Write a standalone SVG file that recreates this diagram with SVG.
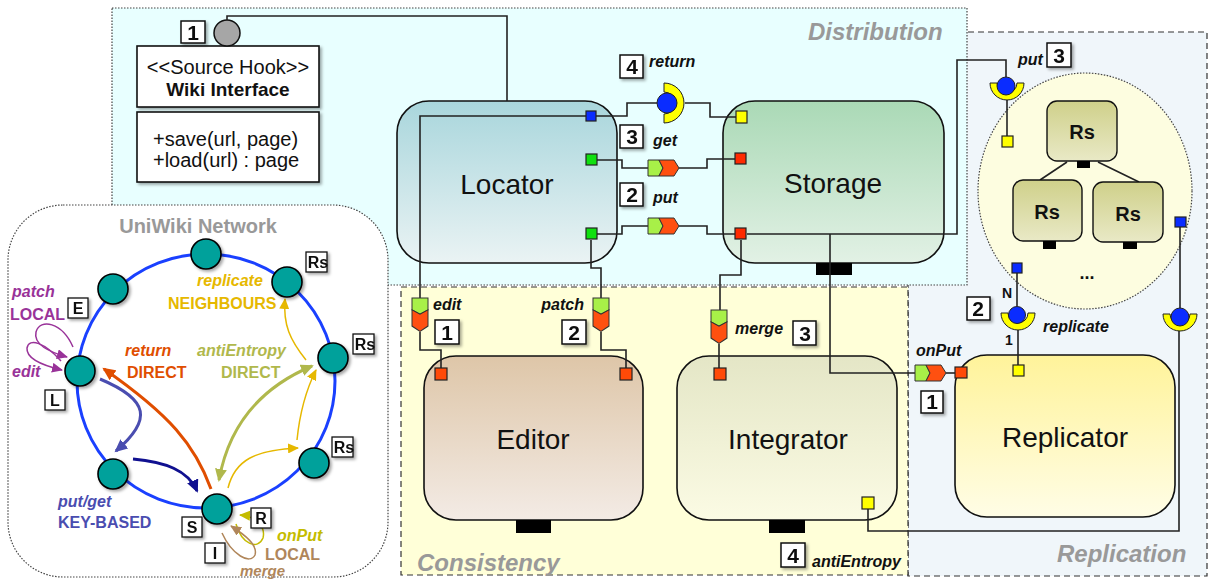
<svg xmlns="http://www.w3.org/2000/svg" width="1209" height="580" viewBox="0 0 1209 580">
<defs>
<style>
text{font-family:"Liberation Sans",Arial,sans-serif}
.dot{fill:none;stroke:#444;stroke-width:1.2;stroke-dasharray:1.5 1.5}
.dash{stroke:#333;stroke-width:1.2;stroke-dasharray:6 4}
.comp{stroke:#111;stroke-width:1.6}
.clabel{font-size:28px;text-anchor:middle;fill:#111}
.rlabel{font-size:24px;font-weight:bold;font-style:italic;fill:#999}
.wire{fill:none;stroke:#222;stroke-width:1.6}
.port{stroke:#222;stroke-width:1.2}
.pb{fill:#0a2cff}.pg{fill:#10e010}.pr{fill:#ff2a00}.po{fill:#ff4a08}.py{fill:#ffff00}
.num rect{fill:#fff;stroke:#111;stroke-width:1.5}
.num text{font-size:21px;font-weight:bold;text-anchor:middle;fill:#111}
.lab{font-size:16px;font-weight:bold;font-style:italic;fill:#111}
.bar{fill:#000}
.sock{fill:#ffff00;stroke:#222;stroke-width:1}
.ball{fill:#0a2cff;stroke:#222;stroke-width:1}
.cg{fill:#a8f048;stroke:#333;stroke-width:1}
.cr{fill:#ff5010;stroke:#333;stroke-width:1}
.nn{fill:#00a19b;stroke:#000;stroke-width:1.6}
.nl rect{fill:#fff;stroke:#111;stroke-width:1.3}
.nl text{font-size:16px;font-weight:bold;text-anchor:middle;fill:#111}
.nt{font-size:16px;font-weight:bold}
.it{font-style:italic}
.rs{fill:url(#gRs);stroke:#111;stroke-width:1.4}
.rst{font-size:20px;font-weight:bold;text-anchor:middle;fill:#111}
</style>
<filter id="sh" x="-20%" y="-20%" width="150%" height="150%"><feDropShadow dx="2" dy="2" stdDeviation="1.6" flood-color="#000" flood-opacity="0.35"/></filter>
<linearGradient id="gLoc" x1="0" y1="0" x2="0" y2="1"><stop offset="0" stop-color="#a9d6dc"/><stop offset="1" stop-color="#eaf3f4"/></linearGradient>
<linearGradient id="gSto" x1="0" y1="0" x2="0" y2="1"><stop offset="0" stop-color="#aad9b6"/><stop offset="1" stop-color="#e2f1e5"/></linearGradient>
<linearGradient id="gEd" x1="0" y1="0" x2="0" y2="1"><stop offset="0" stop-color="#dec6a8"/><stop offset="1" stop-color="#f3ebe5"/></linearGradient>
<linearGradient id="gInt" x1="0" y1="0" x2="0" y2="1"><stop offset="0" stop-color="#e4e6c6"/><stop offset="1" stop-color="#fbfbe4"/></linearGradient>
<linearGradient id="gRep" x1="0" y1="0" x2="0" y2="1"><stop offset="0" stop-color="#fff39a"/><stop offset="1" stop-color="#fffde6"/></linearGradient>
<linearGradient id="gRs" x1="0" y1="0" x2="0" y2="1"><stop offset="0" stop-color="#cfd08a"/><stop offset="1" stop-color="#e9e9c6"/></linearGradient>
<g id="conn"><path class="cg" d="M0,0 H11 L15,8 L11,16 H0 Z"/><path class="cr" d="M11,0 H26 L31,8 L26,16 H11 L15,8 Z"/></g>
<marker id="aO" markerUnits="userSpaceOnUse" markerWidth="14" markerHeight="12" refX="11" refY="6" orient="auto"><path d="M0,0 L13,6 L0,12 Z" fill="#e04e00"/></marker>
<marker id="aB" markerUnits="userSpaceOnUse" markerWidth="14" markerHeight="12" refX="11" refY="6" orient="auto"><path d="M0,0 L13,6 L0,12 Z" fill="#4a4db0"/></marker>
<marker id="aN" markerUnits="userSpaceOnUse" markerWidth="14" markerHeight="12" refX="11" refY="6" orient="auto"><path d="M0,0 L13,6 L0,12 Z" fill="#101090"/></marker>
<marker id="aA" markerUnits="userSpaceOnUse" markerWidth="14" markerHeight="12" refX="11" refY="6" orient="auto-start-reverse"><path d="M0,0 L13,6 L0,12 Z" fill="#b0b84c"/></marker>
<marker id="aG" markerUnits="userSpaceOnUse" markerWidth="12" markerHeight="10" refX="10" refY="5" orient="auto"><path d="M0,0 L11,5 L0,10 Z" fill="#e6b800"/></marker>
<marker id="aP" markerUnits="userSpaceOnUse" markerWidth="12" markerHeight="10" refX="10" refY="5" orient="auto"><path d="M0,0 L11,5 L0,10 Z" fill="#993399"/></marker>
<marker id="aY" markerUnits="userSpaceOnUse" markerWidth="12" markerHeight="10" refX="10" refY="5" orient="auto"><path d="M0,0 L11,5 L0,10 Z" fill="#c4bc00"/></marker>
<marker id="aM" markerUnits="userSpaceOnUse" markerWidth="12" markerHeight="10" refX="10" refY="5" orient="auto"><path d="M0,0 L11,5 L0,10 Z" fill="#b0865a"/></marker>
</defs>

<rect width="1209" height="580" fill="#fff"/>

<!-- regions -->
<g id="region-replication">
<rect class="dash" x="908" y="32" width="299" height="544" fill="#f0f6fa"/>
<text class="rlabel" x="1057" y="562">Replication</text>
</g>
<g id="region-distribution">
<rect x="112" y="8" width="855" height="277" fill="#e8ffff"/>
<rect class="dot" x="112" y="8" width="855" height="277"/>
<text class="rlabel" x="808" y="40">Distribution</text>
</g>
<g id="region-consistency">
<rect class="dash" x="401" y="287" width="507" height="288" fill="#ffffd8"/>
<text class="rlabel" x="417" y="571">Consistency</text>
</g>

<!-- UniWiki network -->
<g id="network">
<rect x="8" y="205" width="380" height="372" rx="55" ry="55" fill="#fff"/>
<rect class="dot" x="8" y="205" width="380" height="372" rx="55" ry="55"/>
<text x="198" y="233" font-size="20" font-weight="bold" fill="#999" text-anchor="middle">UniWiki Network</text>
<ellipse cx="206" cy="381" rx="129" ry="127" fill="none" stroke="#1a40ff" stroke-width="3"/>
<g id="net-arrows" fill="none">
<path d="M211,489 C195,445 170,415 104,369" stroke="#e04e00" stroke-width="3" marker-end="url(#aO)"/>
<path d="M100,379 C150,400 152,420 116,451" stroke="#4a4db0" stroke-width="3" marker-end="url(#aB)"/>
<path d="M133,459 C165,462 188,470 197,491" stroke="#101090" stroke-width="3" marker-end="url(#aN)"/>
<path d="M219,480 C228,430 255,390 312,366" stroke="#b0b84c" stroke-width="3" marker-start="url(#aA)" marker-end="url(#aA)"/>
<path d="M228,488 C235,460 255,450 298,448" stroke="#e6b800" stroke-width="1.5" marker-end="url(#aG)"/>
<path d="M297,440 C300,410 306,390 316,370" stroke="#e6b800" stroke-width="1.5" marker-end="url(#aG)"/>
<path d="M306,360 C290,340 283,325 285,299" stroke="#e6b800" stroke-width="1.5" marker-end="url(#aG)"/>
<path d="M73,347 C62,322 40,318 36,332 C33,345 50,352 67,357" stroke="#993399" stroke-width="1.5" marker-end="url(#aP)"/>
<path d="M61,361 C45,343 29,337 27,348 C26,359 45,366 62,370" stroke="#993399" stroke-width="1.5" marker-end="url(#aP)"/>
<path d="M236,524 C242,545 258,550 263,538 C266,526 255,516 240,515" stroke="#c4bc00" stroke-width="1.5" marker-end="url(#aY)"/>
<path d="M222,533 C232,555 250,565 255,555 C258,545 245,535 231,526" stroke="#b0865a" stroke-width="1.5" marker-end="url(#aM)"/>
</g>
<g id="net-nodes" filter="url(#sh)">
<circle class="nn" cx="206" cy="254" r="15"/>
<circle class="nn" cx="113" cy="289" r="15"/>
<circle class="nn" cx="80" cy="371" r="15"/>
<circle class="nn" cx="113" cy="474" r="15"/>
<circle class="nn" cx="217" cy="509" r="15"/>
<circle class="nn" cx="314" cy="463" r="15"/>
<circle class="nn" cx="333" cy="358" r="15"/>
<circle class="nn" cx="287" cy="282" r="15"/>
</g>
<g class="nl" filter="url(#sh)">
<rect x="68" y="298" width="20" height="20"/><text x="78" y="314">E</text>
<rect x="45" y="390" width="20" height="20"/><text x="55" y="406">L</text>
<rect x="182" y="517" width="20" height="20"/><text x="192" y="533">S</text>
<rect x="205" y="543" width="20" height="20"/><text x="215" y="559">I</text>
<rect x="251" y="508" width="20" height="20"/><text x="261" y="524">R</text>
<rect x="306" y="252" width="21" height="20"/><text x="318" y="268">Rs</text>
<rect x="353" y="334" width="21" height="20"/><text x="365" y="350">Rs</text>
<rect x="332" y="437" width="21" height="20"/><text x="344" y="453">Rs</text>
</g>
<g class="nt">
<text x="12" y="297" class="it" fill="#993399">patch</text>
<text x="10" y="320" fill="#993399">LOCAL</text>
<text x="12" y="377" class="it" fill="#993399">edit</text>
<text x="125" y="356" class="it" fill="#e04e00">return</text>
<text x="127" y="378" fill="#e04e00">DIRECT</text>
<text x="197" y="356" class="it" fill="#b0b84c">antiEntropy</text>
<text x="221" y="378" fill="#b0b84c">DIRECT</text>
<text x="197" y="286" class="it" fill="#e6b800">replicate</text>
<text x="168" y="309" fill="#e6b800">NEIGHBOURS</text>
<text x="58" y="507" class="it" fill="#4a4db0">put/get</text>
<text x="58" y="528" fill="#4a4db0">KEY-BASED</text>
<text x="277" y="541" class="it" fill="#c4bc00">onPut</text>
<text x="265" y="560" fill="#b0865a">LOCAL</text>
<text x="240" y="576" class="it" fill="#b0865a" font-size="15">merge</text>
</g>
</g>

<!-- Rs cluster -->
<g id="rs-cluster">
<ellipse cx="1085" cy="191" rx="107" ry="118" fill="#fdfde0"/>
<ellipse class="dot" cx="1085" cy="191" rx="107" ry="118"/>
<path class="wire" d="M1067,162 L1040,180 M1098,162 L1139,182" stroke-width="1.3"/>
<rect class="rs" x="1047" y="101" width="70" height="60" rx="10"/>
<text class="rst" x="1082" y="139">Rs</text>
<rect class="bar" x="1077" y="161" width="13" height="7"/>
<rect class="rs" x="1013" y="180" width="69" height="61" rx="10"/>
<text class="rst" x="1047" y="219">Rs</text>
<rect class="bar" x="1043" y="241" width="13" height="8"/>
<rect class="rs" x="1093" y="182" width="70" height="60" rx="10"/>
<text class="rst" x="1128" y="221">Rs</text>
<rect class="bar" x="1123" y="242" width="14" height="7"/>
<text x="1087" y="279" font-size="18" font-weight="bold" text-anchor="middle" fill="#111">...</text>
</g>

<!-- UML interface -->
<g id="wiki-interface">
<g filter="url(#sh)">
<rect x="137" y="46" width="182" height="61" fill="#fff" stroke="#111" stroke-width="1.6"/>
<rect x="137" y="112" width="182" height="70" fill="#fff" stroke="#111" stroke-width="1.6"/>
</g>
<text x="228" y="74" font-size="20" text-anchor="middle" fill="#111">&lt;&lt;Source Hook&gt;&gt;</text>
<text x="228" y="96" font-size="19" font-weight="bold" text-anchor="middle" fill="#111">Wiki Interface</text>
<text x="153" y="146" font-size="20" fill="#111">+save(url, page)</text>
<text x="153" y="167" font-size="20" fill="#111">+load(url) : page</text>
<circle cx="227" cy="33" r="13" fill="#a6a6a6" stroke="#111" stroke-width="1.5"/>
<g class="num" filter="url(#sh)"><rect x="181" y="21" width="24" height="22"/><text x="193" y="40">1</text></g>
</g>

<!-- components -->
<g id="locator"><rect class="comp" x="397" y="101" width="220" height="162" rx="32" fill="url(#gLoc)"/><text class="clabel" x="507" y="194">Locator</text></g>
<g id="storage"><rect class="comp" x="723" y="101" width="221" height="162" rx="32" fill="url(#gSto)"/><text class="clabel" x="833" y="193">Storage</text><rect class="bar" x="816" y="263" width="36" height="12"/></g>
<g id="editor"><rect class="comp" x="424" y="356" width="219" height="164" rx="32" fill="url(#gEd)"/><text class="clabel" x="533" y="449">Editor</text><rect class="bar" x="516" y="520" width="35" height="13"/></g>
<g id="integrator"><rect class="comp" x="677" y="356" width="220" height="164" rx="32" fill="url(#gInt)"/><text class="clabel" x="788" y="449">Integrator</text><rect class="bar" x="769" y="520" width="36" height="13"/></g>
<g id="replicator"><rect class="comp" x="955" y="355" width="220" height="162" rx="32" fill="url(#gRep)"/><text class="clabel" x="1065" y="447">Replicator</text></g>

<!-- connectors -->
<g id="connectors">
<path class="wire" d="M227,20 V16 H507 V101"/>
<path class="wire" d="M586,116 H420 V298"/>
<path class="wire" d="M420,332 V350 H441 V368"/>
<path class="wire" d="M596,116 H627 V103 H657"/>
<path class="wire" d="M685,103 H710 V117 H736"/>
<path class="wire" d="M597,160 H622 V168 H648"/>
<path class="wire" d="M679,168 H707 V159 H735"/>
<path class="wire" d="M597,234 H622 V226 H648"/>
<path class="wire" d="M679,226 H707 V234 H735"/>
<path class="wire" d="M591,240 V268 H601 V298"/>
<path class="wire" d="M601,332 V350 H626 V368"/>
<path class="wire" d="M747,234 H957 V60 H1006 V77"/>
<path class="wire" d="M1007,100 V136"/>
<path class="wire" d="M741,240 V275 H720 V310"/>
<path class="wire" d="M719,344 V368"/>
<path class="wire" d="M830,234 V373 H915"/>
<path class="wire" d="M946,373 H956"/>
<path class="wire" d="M1017,273 V306"/>
<path class="wire" d="M1018,330 V365"/>
<path class="wire" d="M1180,227 V308"/>
<path class="wire" d="M868,509 V531 H1179 V330"/>
</g>

<!-- ports -->
<g id="ports">
<rect class="port pb" x="586" y="111" width="10" height="10"/>
<rect class="port pg" x="586" y="154" width="11" height="11"/>
<rect class="port pg" x="586" y="228" width="11" height="11"/>
<rect class="port py" x="736" y="111" width="11" height="12"/>
<rect class="port pr" x="735" y="153" width="11" height="11"/>
<rect class="port pr" x="735" y="228" width="11" height="11"/>
<rect class="port po" x="435" y="368" width="12" height="12"/>
<rect class="port po" x="620" y="368" width="12" height="12"/>
<rect class="port po" x="714" y="368" width="12" height="12"/>
<rect class="port py" x="862" y="497" width="12" height="12"/>
<rect class="port po" x="955" y="367" width="12" height="11"/>
<rect class="port py" x="1013" y="365" width="11" height="11"/>
<rect class="port py" x="1002" y="136" width="11" height="11"/>
<rect class="port pb" x="1012" y="263" width="10" height="10"/>
<rect class="port pb" x="1175" y="217" width="11" height="10"/>
</g>

<!-- delegation connectors -->
<g id="delegations">
<use href="#conn" x="648" y="160"/>
<use href="#conn" x="648" y="218"/>
<use href="#conn" x="915" y="365"/>
<use href="#conn" transform="translate(428,298) rotate(90) scale(1.08,1)"/>
<use href="#conn" transform="translate(609,298) rotate(90) scale(1.08,1)"/>
<use href="#conn" transform="translate(727,310) rotate(90) scale(1.08,1)"/>
</g>

<!-- sockets -->
<g id="sockets">
<path class="sock" d="M664,83 A20,20 0 0 1 664,123 V114 A11,11 0 0 0 664,92 Z"/>
<circle class="ball" cx="667" cy="103" r="10"/>
<path class="sock" d="M990,83 A17,17 0 0 0 1024,83 H1017 A10,10 0 0 1 997,83 Z"/>
<circle class="ball" cx="1006" cy="86" r="9"/>
<path class="sock" d="M1001,313 A17,17 0 0 0 1035,313 H1028 A10,10 0 0 1 1008,313 Z"/>
<circle class="ball" cx="1017" cy="315" r="8.5"/>
<path class="sock" d="M1163,314 A17,17 0 0 0 1197,314 H1190 A10,10 0 0 1 1170,314 Z"/>
<circle class="ball" cx="1180" cy="317" r="9"/>
</g>

<!-- labels -->
<g id="labels">
<g class="num" filter="url(#sh)">
<rect x="620" y="55" width="23" height="23"/><text x="632" y="74">4</text>
<rect x="620" y="125" width="23" height="23"/><text x="632" y="144">3</text>
<rect x="620" y="183" width="23" height="23"/><text x="632" y="202">2</text>
<rect x="435" y="320" width="24" height="24"/><text x="447" y="340">1</text>
<rect x="562" y="320" width="24" height="24"/><text x="574" y="340">2</text>
<rect x="793" y="321" width="23" height="24"/><text x="805" y="341">3</text>
<rect x="781" y="543" width="24" height="24"/><text x="793" y="563">4</text>
<rect x="921" y="391" width="22" height="22"/><text x="932" y="409">1</text>
<rect x="967" y="297" width="23" height="23"/><text x="978" y="316">2</text>
<rect x="1047" y="43" width="24" height="24"/><text x="1059" y="63">3</text>
</g>
<text class="lab" x="649" y="67">return</text>
<text class="lab" x="653" y="146">get</text>
<text class="lab" x="653" y="203">put</text>
<text class="lab" x="433" y="310">edit</text>
<text class="lab" x="584" y="310" text-anchor="end">patch</text>
<text class="lab" x="735" y="334">merge</text>
<text class="lab" x="812" y="567">antiEntropy</text>
<text class="lab" x="916" y="356">onPut</text>
<text class="lab" x="1043" y="332">replicate</text>
<text class="lab" x="1018" y="65">put</text>
<text x="1002" y="298" font-size="14" font-weight="bold" fill="#111">N</text>
<text x="1005" y="345" font-size="14" font-weight="bold" fill="#111">1</text>
</g>
</svg>
